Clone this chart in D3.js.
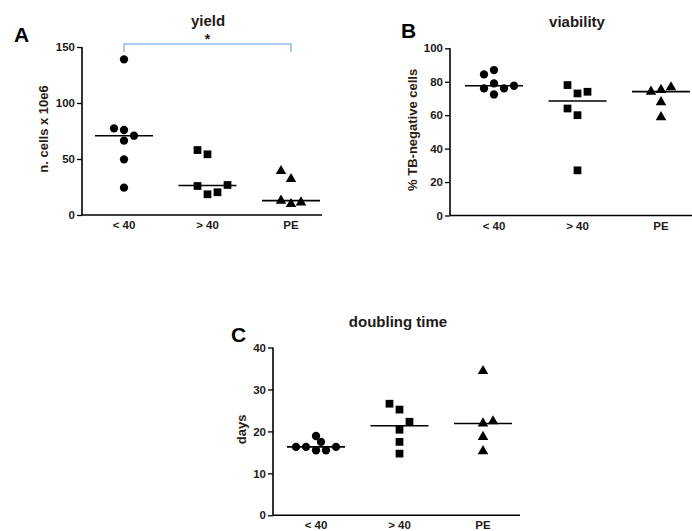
<!DOCTYPE html>
<html>
<head>
<meta charset="utf-8">
<script src="https://cdn.jsdelivr.net/npm/d3@7"></script>
<style>
  html, body { margin: 0; padding: 0; background: #fff; }
  svg { display: block; }
</style>
</head>
<body>
<svg id="chart" width="692" height="531" font-family="Liberation Sans, Arial, sans-serif"></svg>
<script>
// ---------------- data ----------------
const categories = ["< 40", "> 40", "PE"];

const yieldLt40 = [139, 77.4, 75.9, 70.8, 66.4, 49.7, 24.4];
const yieldGt40 = [58, 54.2, 25.9, 26.8, 18.5, 20.3];
const yieldPE   = [39.3, 32.1, 12.8, 9.8, 11.3];
const yieldTicks = [0, 50, 100, 150];

const viabLt40 = [84.4, 87, 76, 79, 76, 77.6, 72.4];
const viabGt40 = [78, 73, 74, 64, 60, 27];
const viabPE   = [74.1, 75.1, 76.7, 67.8, 58.8];
const viabTicks = [0, 20, 40, 60, 80, 100];

const dblLt40 = [16.3, 16.3, 18.9, 17.5, 15.5, 15.5, 16.3];
const dblGt40 = [26.6, 25.2, 22.3, 20.4, 17.5, 14.7];
const dblPE   = [34.4, 21.9, 22.4, 18.7, 15.3];
const dblTicks = [0, 10, 20, 30, 40];

// horizontal scatter slot of each point (GraphPad-style spreading)
const yieldJitter = [[0, -1, 0, 1, 0, 0, 0], [-1, 0, -1, 2, 0, 1], [-1, 0, -1, 0, 1]];
const viabJitter  = [[-1, 0, -1, 0, 1, 2, 0], [-1, 0, 1, -1, 0, 0], [-1, 0, 1, 0, 0]];
const dblJitter   = [[-2, -1, 0, 0.5, 0, 1, 2], [-1, 0, 1, 0, 0, 0], [0, 0, 1, 0, 0]];

// ---------------- drawing ----------------
const FONT = "Liberation Sans, Arial, sans-serif";
const svg = d3.select("#chart");
const symbols = [d3.symbolCircle, d3.symbolSquare, d3.symbolTriangle];
const symbolSizes = [54, 60, 48];
const TEXT = "#1e1a18";

function panel(cfg) {
  const g = svg.append("g");
  const y = d3.scaleLinear().domain([0, cfg.max]).range([cfg.yBottom, cfg.yTop]);
  const x = d3.scalePoint().domain(categories).range([cfg.col0, cfg.col0 + 167]);
  const spacing = 10;

  // y axis
  const yAxis = d3.axisLeft(y).tickValues(cfg.ticks).tickSize(5).tickPadding(2).tickSizeOuter(0);
  const ya = g.append("g").attr("transform", `translate(${cfg.axisX},0)`).call(yAxis)
    .attr("font-family", FONT).attr("font-size", 11.5).attr("font-weight", "bold");
  ya.select(".domain").attr("stroke", "#000").attr("stroke-width", 1.6)
    .attr("d", `M0,${cfg.yTop}V${cfg.yBottom}`);
  ya.selectAll(".tick line").attr("stroke", "#000").attr("stroke-width", 1.3);
  ya.selectAll(".tick text").attr("fill", TEXT);

  // x axis
  g.append("line").attr("x1", cfg.axisX).attr("x2", cfg.xEnd)
    .attr("y1", cfg.yBottom).attr("y2", cfg.yBottom)
    .attr("stroke", "#000").attr("stroke-width", 1.6);
  g.selectAll("text.xl").data(categories).enter().append("text")
    .attr("class", "xl")
    .attr("x", d => x(d)).attr("y", cfg.yBottom + 14)
    .attr("text-anchor", "middle").attr("font-weight", "bold")
    .attr("font-size", 11.5).attr("fill", TEXT).text(d => d);

  // points
  cfg.values.forEach((vals, ci) => {
    const cx = x(categories[ci]);
    g.selectAll(null).data(vals).enter().append("path")
      .attr("d", d3.symbol().type(symbols[ci]).size(symbolSizes[ci]))
      .attr("transform", (d, i) => `translate(${cx + cfg.jitter[ci][i] * spacing},${y(d)})`)
      .attr("fill", "#000");
    const med = d3.median(vals);
    g.append("line").attr("x1", cx - 29).attr("x2", cx + 29)
      .attr("y1", y(med)).attr("y2", y(med))
      .attr("stroke", "#000").attr("stroke-width", 1.6);
  });

  // title
  g.append("text").attr("x", cfg.titleX).attr("y", cfg.titleY)
    .attr("text-anchor", "middle").attr("font-weight", "bold").attr("font-size", 15)
    .attr("fill", TEXT).text(cfg.title);

  // y label
  g.append("text")
    .attr("transform", `translate(${cfg.ylabX},${(cfg.yTop + cfg.yBottom) / 2 - 2}) rotate(-90)`)
    .attr("text-anchor", "middle").attr("font-weight", "bold").attr("font-size", 13)
    .attr("fill", "#2e1c12").text(cfg.ylabel);

  // panel letter
  g.append("text").attr("x", cfg.letterX).attr("y", cfg.letterY)
    .attr("font-weight", "bold").attr("font-size", 21).attr("fill", "#000")
    .text(cfg.letter);

  return { x, y, g };
}

const A = panel({
  axisX: 82, yTop: 47, yBottom: 215, xEnd: 322, col0: 124, max: 150,
  ticks: yieldTicks, values: [yieldLt40, yieldGt40, yieldPE], jitter: yieldJitter,
  title: "yield", titleX: 208, titleY: 26, ylabel: "n. cells x 10e6", ylabX: 48,
  letter: "A", letterX: 14, letterY: 42
});

// significance bracket (< 40 vs PE)
{
  const x1 = A.x(categories[0]), x2 = A.x(categories[2]);
  const yb = 44;
  A.g.append("path")
    .attr("d", `M${x1},${yb + 8}V${yb}H${x2}V${yb + 8}`)
    .attr("fill", "none").attr("stroke", "#93bde3").attr("stroke-width", 1.6);
  A.g.append("text").attr("x", (x1 + x2) / 2).attr("y", 44)
    .attr("text-anchor", "middle").attr("font-weight", "bold").attr("font-size", 14)
    .attr("fill", TEXT).text("*");
}

panel({
  axisX: 450, yTop: 48.3, yBottom: 215.5, xEnd: 692, col0: 494, max: 100,
  ticks: viabTicks, values: [viabLt40, viabGt40, viabPE], jitter: viabJitter,
  title: "viability", titleX: 577, titleY: 27, ylabel: "% TB-negative cells", ylabX: 417,
  letter: "B", letterX: 401, letterY: 38
});

panel({
  axisX: 273, yTop: 347.5, yBottom: 515.3, xEnd: 520, col0: 316, max: 40,
  ticks: dblTicks, values: [dblLt40, dblGt40, dblPE], jitter: dblJitter,
  title: "doubling time", titleX: 398, titleY: 327, ylabel: "days", ylabX: 246,
  letter: "C", letterX: 231, letterY: 342
});
</script>
</body>
</html>
